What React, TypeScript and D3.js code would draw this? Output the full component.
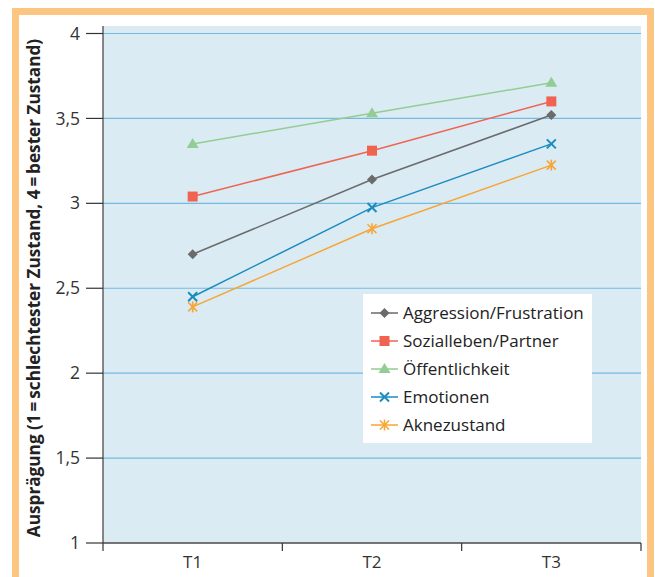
import React from "react";
import * as d3 from "d3";

const categories = ["T1", "T2", "T3"];
const yTicks = [1, 1.5, 2, 2.5, 3, 3.5, 4];

const aggression = [2.7, 3.14, 3.52];
const sozialleben = [3.04, 3.31, 3.6];
const oeffentlichkeit = [3.35, 3.53, 3.71];
const emotionen = [2.45, 2.975, 3.35];
const aknezustand = [2.39, 2.85, 3.225];

const seriesNames = [
  "Aggression/Frustration",
  "Sozialleben/Partner",
  "Öffentlichkeit",
  "Emotionen",
  "Aknezustand",
];

const series = [
  { name: seriesNames[0], values: aggression, color: "#6b6b6b", marker: "diamond" },
  { name: seriesNames[1], values: sozialleben, color: "#f06350", marker: "square" },
  { name: seriesNames[2], values: oeffentlichkeit, color: "#93cd93", marker: "triangle" },
  { name: seriesNames[3], values: emotionen, color: "#1a8cbf", marker: "cross" },
  { name: seriesNames[4], values: aknezustand, color: "#f7a535", marker: "asterisk" },
];

const W = 655;
const H = 577;
const plot = { left: 103, right: 641, top: 26, bottom: 543 };
const FONT = "'Open Sans', 'Noto Sans', sans-serif";

function Marker({ type, x, y, color }: { type: string; x: number; y: number; color: string }) {
  switch (type) {
    case "diamond":
      return <path d={`M${x},${y - 5}L${x + 5},${y}L${x},${y + 5}L${x - 5},${y}Z`} fill={color} />;
    case "square":
      return <rect x={x - 5} y={y - 5} width={10} height={10} fill={color} />;
    case "triangle":
      return <path d={`M${x},${y - 6}L${x + 6},${y + 4}L${x - 6},${y + 4}Z`} fill={color} />;
    case "cross":
      return (
        <g stroke={color} strokeWidth={2}>
          <line x1={x - 4.5} y1={y - 4.5} x2={x + 4.5} y2={y + 4.5} />
          <line x1={x - 4.5} y1={y + 4.5} x2={x + 4.5} y2={y - 4.5} />
        </g>
      );
    case "asterisk":
      return (
        <g stroke={color} strokeWidth={1.6}>
          <line x1={x - 4.5} y1={y - 4.5} x2={x + 4.5} y2={y + 4.5} />
          <line x1={x - 4.5} y1={y + 4.5} x2={x + 4.5} y2={y - 4.5} />
          <line x1={x} y1={y - 5.5} x2={x} y2={y + 5.5} />
        </g>
      );
    default:
      return null;
  }
}

export default function App() {
  const x = d3.scaleBand<string>().domain(categories).range([plot.left, plot.right]);
  const y = d3.scaleLinear().domain([1, 4]).range([plot.bottom, 33.5]);
  const fmt = (v: number) => String(v).replace(".", ",");
  const cx = (c: string) => (x(c) as number) + x.bandwidth() / 2;
  const line = d3
    .line<number>()
    .x((_, i) => cx(categories[i]))
    .y((v) => y(v));

  const bandEdges = categories.map((c) => x(c) as number).concat([plot.right]);

  const legend = { x: 363, y: 294, w: 229, h: 149, row0: 313, step: 28 };

  return (
    <svg width={W} height={H} style={{ position: "absolute", left: 0, top: 0 }}>
      <rect x={0} y={0} width={W} height={H} fill="#fff" />
      {/* outer frame */}
      <rect x={15.5} y={11.5} width={635} height={569} fill="none" stroke="#fcc682" strokeWidth={7} />
      {/* plot background */}
      <rect
        x={plot.left}
        y={plot.top}
        width={plot.right - plot.left}
        height={plot.bottom - plot.top}
        fill="#dbebf4"
      />
      {/* gridlines */}
      {yTicks
        .filter((t) => t > 1)
        .map((t) => (
          <line key={t} x1={plot.left} x2={plot.right} y1={y(t)} y2={y(t)} stroke="#74bbe0" strokeWidth={1.2} />
        ))}
      {/* y axis */}
      <line x1={plot.left} x2={plot.left} y1={plot.top} y2={plot.bottom} stroke="#4a4a4a" strokeWidth={1.3} />
      {yTicks.map((t) => (
        <g key={t}>
          <line x1={86} x2={plot.left} y1={y(t)} y2={y(t)} stroke="#333" strokeWidth={1.2} />
          <text
            x={80}
            y={y(t)}
            dy="0.35em"
            textAnchor="end"
            fontFamily={FONT}
            fontSize={17.5}
            fill="#333"
          >
            {fmt(t)}
          </text>
        </g>
      ))}
      {/* x axis */}
      <line x1={plot.left} x2={plot.right} y1={plot.bottom} y2={plot.bottom} stroke="#4a4a4a" strokeWidth={1.3} />
      {bandEdges.map((e, i) => (
        <line key={i} x1={e} x2={e} y1={plot.bottom} y2={plot.bottom + 8} stroke="#333" strokeWidth={1.2} />
      ))}
      {categories.map((c) => (
        <text key={c} x={cx(c)} y={568} textAnchor="middle" fontFamily={FONT} fontSize={17} fill="#333">
          {c}
        </text>
      ))}
      {/* y axis title */}
      <text
        transform={`translate(40,288) rotate(-90)`}
        textAnchor="middle"
        fontFamily={FONT}
        fontWeight="bold"
        fontSize={17.2}
        fill="#222"
      >
        Ausprägung (1{"\u2009"}={"\u2009"}schlechtester Zustand, 4{"\u2009"}={"\u2009"}bester Zustand)
      </text>
      {/* series */}
      {series.map((s) => (
        <g key={s.name}>
          <path d={line(s.values) as string} fill="none" stroke={s.color} strokeWidth={1.5} />
          {s.values.map((v, i) => (
            <Marker key={i} type={s.marker} x={cx(categories[i])} y={y(v)} color={s.color} />
          ))}
        </g>
      ))}
      {/* legend */}
      <rect x={legend.x} y={legend.y} width={legend.w} height={legend.h} fill="#fff" />
      {series.map((s, i) => {
        const ly = legend.row0 + i * legend.step;
        return (
          <g key={s.name}>
            <line x1={371} x2={398} y1={ly} y2={ly} stroke={s.color} strokeWidth={1.5} />
            <Marker type={s.marker} x={384.5} y={ly} color={s.color} />
            <text x={403} y={ly} dy="0.35em" fontFamily={FONT} fontSize={17} fill="#222">
              {s.name}
            </text>
          </g>
        );
      })}
    </svg>
  );
}
